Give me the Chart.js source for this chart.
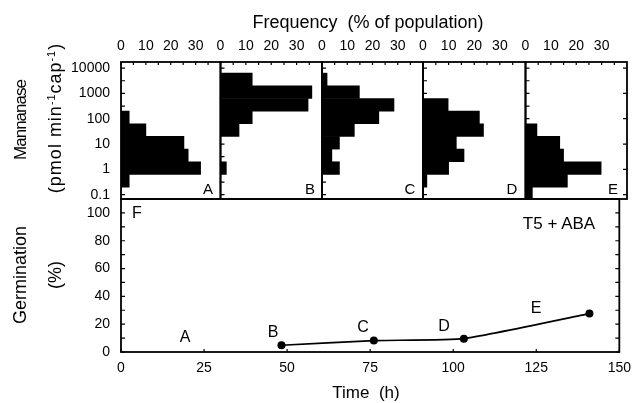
<!DOCTYPE html>
<html>
<head>
<meta charset="utf-8">
<script src="https://cdn.jsdelivr.net/npm/chart.js@4.4.1/dist/chart.umd.min.js"></script>
<style>
  body { margin: 0; background: #fff; }
  #wrap { position: relative; width: 639px; height: 403px; overflow: hidden;
          font-family: "Liberation Sans", Arial, sans-serif; color: #000; }
  #wrap canvas { position: absolute; left: 0; top: 0; }
  .txt { position: absolute; white-space: nowrap; line-height: 1; transform: translate(-50%, -50%); }
  .rot { transform: translate(-50%, -50%) rotate(-90deg); }
  sup { font-size: 60%; vertical-align: 0.6em; line-height: 0; }
</style>
</head>
<body>
<div id="wrap">
  <canvas id="p0" width="639" height="403"></canvas>
  <canvas id="p1" width="639" height="403"></canvas>
  <canvas id="p2" width="639" height="403"></canvas>
  <canvas id="p3" width="639" height="403"></canvas>
  <canvas id="p4" width="639" height="403"></canvas>
  <canvas id="germ" width="639" height="403"></canvas>

  <div class="txt" style="left:368px; top:22px; font-size:18px;">Frequency&nbsp; (% of population)</div>
  <div class="txt rot" style="left:20px; top:120px; font-size:17px; letter-spacing:-1px;">Mannanase</div>
  <div class="txt rot" style="left:55px; top:118px; font-size:18px; letter-spacing:1px;">(pmol min<sup>-1</sup>cap<sup>-1</sup>)</div>
  <div class="txt rot" style="left:20px; top:275px; font-size:18px;">Germination</div>
  <div class="txt rot" style="left:55px; top:275px; font-size:18px;">(%)</div>
  <div class="txt" style="left:366px; top:392px; font-size:17px;">Time&nbsp; (h)</div>

  <div class="txt" style="left:208px; top:188px; font-size:15px;">A</div>
  <div class="txt" style="left:310px; top:188px; font-size:15px;">B</div>
  <div class="txt" style="left:410px; top:188px; font-size:15px;">C</div>
  <div class="txt" style="left:512px; top:188px; font-size:15px;">D</div>
  <div class="txt" style="left:613px; top:188px; font-size:15px;">E</div>

  <div class="txt" style="left:137px; top:213px; font-size:16px;">F</div>
  <div class="txt" style="left:559px; top:223px; font-size:17px;">T5 + ABA</div>
  <div class="txt" style="left:185px; top:337px; font-size:16px;">A</div>
  <div class="txt" style="left:273px; top:332px; font-size:16px;">B</div>
  <div class="txt" style="left:363px; top:327px; font-size:16px;">C</div>
  <div class="txt" style="left:444px; top:326px; font-size:16px;">D</div>
  <div class="txt" style="left:536px; top:308px; font-size:16px;">E</div>
</div>
<script>
// mannanase classes, log10 of bin centre (pmol min-1 cap-1)
const binCenters = [-0.95, -0.45, 0.05, 0.55, 1.05, 1.55, 2.05, 2.55, 3.05, 3.55];

// frequency (% of population) per class, panels A to E
const freqA = [0, 3.3, 32, 27, 25.3, 10, 3.3, 0, 0, 0];
const freqB = [0, 0, 2.3, 0, 0, 7.3, 12.5, 34.5, 36, 12.5];
const freqC = [0, 0, 6.9, 3.9, 6.9, 12.8, 22.5, 28.5, 14.8, 2];
const freqD = [0, 1.5, 10, 16, 13, 23.6, 22, 9.8, 0, 0];
const freqE = [2.7, 16.5, 29.8, 15, 13.5, 4.5, 0, 0, 0, 0];

// germination (panel F)
const germTime = [48.3, 76.1, 103.2, 141];
const germPct = [4.8, 8.2, 9.6, 27.6];

// ticks
const freqTicks = [0, 10, 20, 30];
const freqMinor = [0, 5, 10, 15, 20, 25, 30, 35];
const mannTicks = [-1, 0, 1, 2, 3, 4];
const mannLabels = ['0.1', '1', '10', '100', '1000', '10000'];
const mannMinor = [-1, -0.5, 0, 0.5, 1, 1.5, 2, 2.5, 3, 3.5, 4];
const germTicks = [0, 20, 40, 60, 80, 100];
const germMinor = [0, 10, 20, 30, 40, 50, 60, 70, 80, 90, 100];
const timeTicks = [0, 25, 50, 75, 100, 125, 150];

const tickFont = { family: '"Liberation Sans Narrow", "Liberation Sans", Arial, sans-serif', size: 14 };
const panelEdges = [121, 220.5, 322, 423, 525.5, 627];

// box around the plot area plus small inward tick marks
const innerTicks = {
  id: 'innerTicks',
  afterDraw(chart, args, opts) {
    const ctx = chart.ctx;
    const a = chart.chartArea;
    ctx.save();
    ctx.strokeStyle = '#000';
    ctx.lineWidth = 1.2;
    ctx.beginPath();
    (opts.marks || []).forEach(m => {
      const s = chart.scales[m.scale];
      m.values.forEach(v => {
        const p = s.getPixelForValue(v);
        if (m.side === 'left') { ctx.moveTo(a.left, p); ctx.lineTo(a.left + 4, p); }
        if (m.side === 'right') { ctx.moveTo(a.right, p); ctx.lineTo(a.right - 4, p); }
        if (m.side === 'top') { ctx.moveTo(p, a.top); ctx.lineTo(p, a.top + 3); }
        if (m.side === 'bottom') { ctx.moveTo(p, a.bottom); ctx.lineTo(p, a.bottom - 3); }
      });
    });
    ctx.stroke();
    ctx.lineWidth = 1.8;
    ctx.strokeRect(a.left, a.top, a.right - a.left, a.bottom - a.top);
    ctx.restore();
  }
};

const panels = [freqA, freqB, freqC, freqD, freqE];
panels.forEach((freqs, i) => {
  const first = i === 0;
  const marks = [
    { scale: 'y', side: 'left', values: mannMinor },
    { scale: 'x', side: 'top', values: freqMinor }
  ];
  if (i === panels.length - 1) marks.push({ scale: 'y', side: 'right', values: mannTicks });

  new Chart(document.getElementById('p' + i), {
    type: 'bar',
    data: {
      datasets: [{
        data: binCenters.map((c, k) => ({ y: c, x: freqs[k] })),
        backgroundColor: '#000',
        borderWidth: 0,
        barPercentage: 1,
        categoryPercentage: 1
      }]
    },
    options: {
      indexAxis: 'y',
      responsive: false,
      animation: false,
      devicePixelRatio: 1,
      layout: { padding: { left: first ? 0 : panelEdges[i], right: 639 - panelEdges[i + 1], top: 32, bottom: 403 - 199 } },
      plugins: { legend: { display: false }, tooltip: { enabled: false }, innerTicks: { marks } },
      scales: {
        x: {
          type: 'linear', position: 'top', min: 0, max: 40,
          grid: { display: false, drawTicks: false }, border: { display: false },
          afterBuildTicks: s => { s.ticks = freqTicks.map(v => ({ value: v })); },
          afterFit: s => { s.height = 30; },
          ticks: { font: tickFont, color: '#000', padding: 7, autoSkip: false, maxRotation: 0 }
        },
        y: {
          type: 'linear', position: 'left', min: -1.17, max: 4.24, offset: false, display: first,
          grid: { display: false, drawTicks: false }, border: { display: false },
          afterBuildTicks: s => { s.ticks = mannTicks.map(v => ({ value: v })); },
          afterFit: s => { s.width = first ? 121 : 0; },
          ticks: { font: tickFont, color: '#000', padding: 11, autoSkip: false,
                   callback: v => mannLabels[mannTicks.indexOf(v)] }
        }
      }
    },
    plugins: [innerTicks]
  });
});

new Chart(document.getElementById('germ'), {
  type: 'scatter',
  data: {
    datasets: [{
      data: germTime.map((t, k) => ({ x: t, y: germPct[k] })),
      showLine: true,
      borderColor: '#000',
      backgroundColor: '#000',
      borderWidth: 1.6,
      pointRadius: 4,
      pointBorderWidth: 0,
      tension: 0.15
    }]
  },
  options: {
    responsive: false,
    animation: false,
    devicePixelRatio: 1,
    layout: { padding: { left: 0, right: 12, top: 199, bottom: 21 } },
    plugins: {
      legend: { display: false }, tooltip: { enabled: false },
      innerTicks: { marks: [
        { scale: 'y', side: 'left', values: germMinor },
        { scale: 'y', side: 'right', values: germMinor },
        { scale: 'x', side: 'bottom', values: timeTicks }
      ] }
    },
    scales: {
      x: {
        type: 'linear', position: 'bottom', min: 0, max: 150,
        grid: { display: false, drawTicks: false }, border: { display: false },
        afterBuildTicks: s => { s.ticks = timeTicks.map(v => ({ value: v })); },
        afterFit: s => { s.height = 30; },
        ticks: { font: tickFont, color: '#000', padding: 8, autoSkip: false, maxRotation: 0 }
      },
      y: {
        type: 'linear', position: 'left', min: 0, max: 110,
        grid: { display: false, drawTicks: false }, border: { display: false },
        afterBuildTicks: s => { s.ticks = germTicks.map(v => ({ value: v })); },
        afterFit: s => { s.width = 121; },
        ticks: { font: tickFont, color: '#000', padding: 11, autoSkip: false }
      }
    }
  },
  plugins: [innerTicks]
});
</script>
</body>
</html>
